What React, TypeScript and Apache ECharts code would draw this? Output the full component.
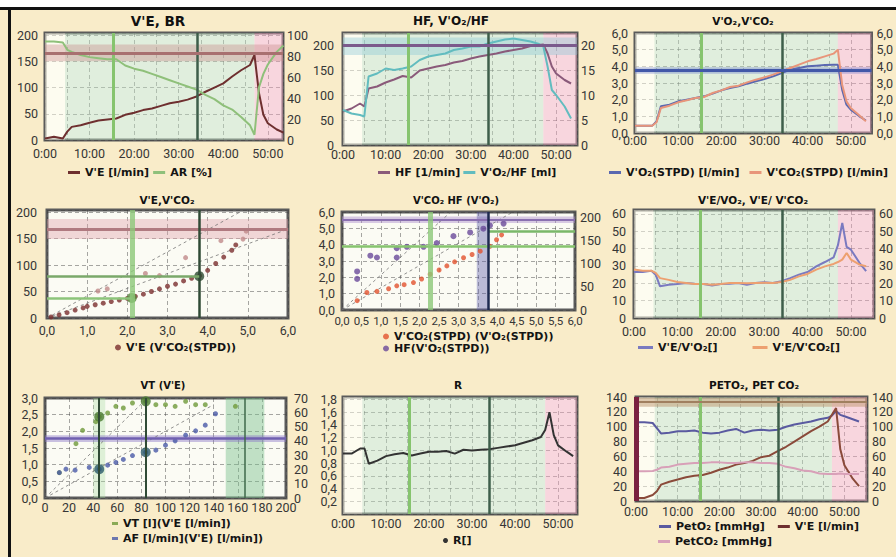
import React, { useEffect, useRef } from 'react';
import * as echarts from 'echarts';

// ---------- data ----------
// time axis in minutes (shared by time panels)
const T = [0, 2, 4, 5, 6, 8, 10, 12, 14, 16, 18, 20, 22, 24, 26, 28, 30, 32, 34, 36, 38, 40, 42, 44, 46, 47, 48, 49, 50, 52, 53.5];

// panel 1
const VE = [3, 6, 3, 16, 25, 28, 33, 37, 39, 41, 48, 52, 57, 60, 65, 70, 73, 77, 83, 92, 100, 108, 121, 133, 143, 162, 90, 48, 32, 20, 14];
const AR = [94, 94, 93, 86, 84, 81, 79, 78, 77, 77, 71, 68, 66, 63, 60, 57, 54, 51, 48, 43, 39, 33, 29, 22, 14, 5, 50, 63, 72, 84, 90];
// panel 2
const HF = [67, 73, 83, 77, 113, 117, 125, 131, 138, 135, 149, 153, 157, 160, 165, 168, 173, 177, 180, 183, 187, 190, 193, 198, 200, 201, 183, 157, 143, 130, 123];
const VO2_HF = [7, 6.3, 6, 5.7, 13.7, 14.3, 15.3, 15, 15.3, 15.7, 17, 17.7, 18, 18.3, 19, 19.3, 19.7, 19.7, 20.3, 20.7, 21.1, 21.3, 21, 20.7, 20.2, 19.7, 15.7, 11, 10, 7.7, 5.3];
// panel 3
const VO2 = [0.44, 0.44, 0.44, 0.7, 1.6, 1.7, 1.9, 2.0, 2.1, 2.2, 2.36, 2.56, 2.7, 2.8, 2.96, 3.1, 3.24, 3.4, 3.6, 3.8, 3.9, 4.0, 4.04, 4.08, 4.1, 4.1, 2.6, 1.7, 1.4, 1.0, 0.75];
const VCO2 = [0.44, 0.44, 0.44, 0.64, 1.5, 1.64, 1.84, 1.96, 2.1, 2.16, 2.4, 2.56, 2.76, 2.84, 3.04, 3.2, 3.34, 3.5, 3.7, 3.9, 4.1, 4.3, 4.44, 4.6, 4.76, 5.0, 2.9, 1.9, 1.5, 1.05, 0.7];
// panel 6
const EQO2 = [26.5, 26.5, 27.3, 25, 18.3, 19.2, 19.6, 20.2, 19.8, 19.6, 18.8, 19.6, 19.8, 20.2, 19.2, 20.2, 20.6, 20.2, 21.2, 23, 25, 26.5, 29.8, 32.3, 35, 42, 54.8, 41, 39.4, 31.7, 27];
const EQCO2 = [28, 27.3, 27.3, 26, 23, 22, 20.8, 20.2, 19.6, 19.6, 19.2, 19.6, 20.2, 20.2, 20, 20.2, 20.4, 20.2, 20.8, 22, 24, 25.4, 27.9, 29.8, 31.2, 32.3, 33.7, 37.5, 33.7, 30.8, 29.8];
// panel 8
const RQ = [0.95, 0.95, 1.03, 1.03, 0.79, 0.84, 0.91, 0.94, 0.96, 0.92, 0.95, 0.98, 0.98, 0.99, 0.95, 1.01, 1.0, 1.01, 1.02, 1.04, 1.06, 1.08, 1.12, 1.16, 1.21, 1.32, 1.6, 1.24, 1.08, 0.98, 0.91];
// panel 9
const PETO2 = [106, 106, 105, 98, 91, 92, 94, 94, 95, 92, 91, 92, 95, 97, 92, 95, 96, 95, 96, 100, 103, 105, 107, 110, 112, 115, 121, 116, 114, 110, 107];
const PETCO2 = [40, 40, 40.5, 42, 45, 46, 49, 50, 51, 51, 52, 52, 51, 51, 52, 52, 51, 51, 50, 46, 44, 41, 40, 37, 36.5, 36.5, 36.5, 37, 36.5, 36.5, 36.5];
const VE9 = [4, 4, 8, 13, 22, 26, 29, 32, 34, 35, 38, 42, 45, 49, 51, 54, 59, 61, 67, 73, 80, 87, 94, 100, 107, 116, 125, 70, 48, 30, 20];

// thresholds / phases (minutes)
const AT_TIME = 15.3;
const RCP_TIME = 34.1;
const WARMUP_END = 4.5;
const EXERCISE_END = 47;

// panel 4 scatter: V'E vs V'CO2
const P4_VCO2 = [0.1, 0.3, 0.5, 0.7, 0.9, 1.0, 1.2, 1.4, 1.6, 1.8, 2.0, 2.2, 2.4, 2.6, 2.8, 3.0, 3.2, 3.4, 3.6, 3.8, 4.0, 4.2, 4.4, 4.6, 4.7];
const P4_VE = [2, 6, 10, 15, 19, 22, 25, 28, 31, 34, 37, 41, 45, 50, 55, 60, 64, 70, 75, 80, 90, 103, 115, 128, 138];
const P4_VCO2_B = [1.27, 1.5, 2.45, 2.8, 3.45, 4.33, 4.88, 4.96];
const P4_VE_B = [51, 55, 84, 80, 114, 146, 149, 164];
const P4_THR_VCO2 = [2.11, 3.79];
const P4_THR_VE = [38, 79];
const P4_REF_A = [[0, 0], [4.8, 200]];
const P4_REF_B = [[0, 0], [6, 168]];

// panel 5 scatter
const P5_VO2_A = [0.39, 0.64, 0.9, 1.2, 1.41, 1.6, 1.84, 2.05, 2.27, 2.5, 2.7, 2.9, 3.13, 3.35, 3.56, 3.81, 3.98, 4.11];
const P5_VCO2 = [0.57, 1.07, 1.14, 1.3, 1.48, 1.55, 1.68, 1.9, 2.19, 2.45, 2.7, 2.95, 3.2, 3.4, 3.6, 3.9, 4.3, 4.6];
const P5_VO2_B = [0.39, 0.39, 0.73, 0.9, 1.41, 1.41, 1.67, 2.1, 2.44, 2.87, 3.3, 3.64, 3.81, 4.16];
const P5_HF = [67, 83, 117, 113, 133, 113, 136, 136, 144, 159, 167, 175, 182, 186];
const P5_AT_VO2 = 2.27;
const P5_RCP_VO2 = 3.77;
const P5_REF_A = [[0, 0], [2.8, 6]];
const P5_REF_B = [[0, 0], [4.4, 6]];

// panel 7 scatter
const P7_VE_A = [11.9, 25.7, 31.2, 42.2, 45, 52, 58.8, 65, 72.6, 83.6, 92, 100, 108, 116.7, 125, 133, 158];
const P7_VT = [0.76, 1.63, 2.03, 2.29, 2.44, 2.55, 2.75, 2.7, 2.85, 2.9, 2.8, 2.8, 2.75, 2.9, 2.8, 2.8, 2.75];
const P7_VE_B = [11.9, 17.4, 25, 36.7, 45, 52, 58.8, 65, 72.6, 83.6, 92, 100, 108, 116.7, 125, 133, 141.5];
const P7_AF = [17.8, 20.2, 19.5, 21.4, 20.2, 23, 24.9, 27, 29.7, 32, 33.5, 37, 40, 44, 47, 51, 59];
const P7_THR_VE = [45, 83.6];
const P7_THR_VT = [2.44, 2.9];
const P7_THR_AF = [20.2, 32];
const P7_REF_A = [[0, 0], [140, 2.8]];
const P7_REF_B = [[0, 0], [85, 3.0]];

const TITLES = ["V'E, BR", "HF, V'O₂/HF", "V'O₂,V'CO₂", "V'E,V'CO₂", "V'CO₂ HF (V'O₂)", "V'E/VO₂, V'E/ V'CO₂", "VT (V'E)", "R", "PETO₂, PET CO₂"];

// ---------- helpers ----------
const pairs = (xs: number[], ys: number[]) => xs.map((x, i) => [x, ys[i]]);
const isMult = (v: number, s: number) => { const r = v / s; return Math.abs(r - Math.round(r)) < 1e-6; };
const comma = (v: number) => v.toFixed(1).replace('.', ',');
const intf = (v: number) => String(Math.round(v));

const AXIS_FONT = { color: '#363636', fontFamily: 'Roboto, sans-serif', fontSize: 12.5, lineHeight: 11 };
const SPLIT = { show: true, lineStyle: { color: 'rgba(60,60,60,0.45)', type: [4, 3], width: 1 } };
const LEGEND_TEXT = { fontFamily: '"DejaVu Sans", sans-serif', fontWeight: 'bold', fontSize: 11, color: '#141414' };

const GRIDS = [
  { left: 45, top: 33, width: 238, height: 107 },
  { left: 343, top: 33, width: 234, height: 112 },
  { left: 635, top: 33, width: 238, height: 100 },
  { left: 47, top: 210, width: 241, height: 108 },
  { left: 342, top: 212, width: 233, height: 98 },
  { left: 634, top: 210, width: 240, height: 108 },
  { left: 45, top: 398, width: 241, height: 100 },
  { left: 343, top: 397, width: 234, height: 117 },
  { left: 636, top: 397, width: 237, height: 104 },
];
const TITLE_POS = [[158, 21, 13.5], [451, 21, 12], [743, 21, 10.5], [167, 200, 10.5], [456, 200, 10], [753, 200, 10.5], [163, 385, 10], [458, 385, 10.5], [754, 385, 10.5]];

function xTime(gi: number, max: number, margin: number) {
  return {
    type: 'value', gridIndex: gi, min: 0, max, interval: 5,
    axisLine: { show: false }, axisTick: { show: false }, splitLine: SPLIT,
    axisLabel: { ...AXIS_FONT, margin, formatter: (v: number) => (isMult(v, 10) ? `${Math.round(v)}:00` : '') },
  };
}
function xVal(gi: number, max: number, interval: number, fmt: (v: number) => string, margin: number, fontSize = 12.5) {
  return {
    type: 'value', gridIndex: gi, min: 0, max, interval,
    axisLine: { show: false }, axisTick: { show: false }, splitLine: SPLIT,
    axisLabel: { ...AXIS_FONT, fontSize, margin, formatter: (v: number) => (isMult(v, interval) ? fmt(v) : '') },
  };
}
function yVal(gi: number, max: number, interval: number, fmt: (v: number) => string, pos: string, margin: number, split: boolean, hideZero = false) {
  return {
    type: 'value', gridIndex: gi, min: 0, max, interval, position: pos,
    axisLine: { show: false }, axisTick: { show: false }, splitLine: split ? SPLIT : { show: false },
    axisLabel: { ...AXIS_FONT, margin, formatter: (v: number) => (isMult(v, interval) && !(hideZero && v === 0) ? fmt(v) : '') },
  };
}

const ZONE_WARM = 'rgba(255,253,236,0.5)';
const ZONE_EX = 'rgba(190,222,192,0.45)';
const ZONE_REC = 'rgba(244,168,195,0.45)';
function zones(max: number): any[] {
  return [
    [{ xAxis: 0, itemStyle: { color: ZONE_WARM } }, { xAxis: WARMUP_END }],
    [{ xAxis: WARMUP_END, itemStyle: { color: ZONE_EX } }, { xAxis: EXERCISE_END }],
    [{ xAxis: EXERCISE_END, itemStyle: { color: ZONE_REC } }, { xAxis: max }],
  ];
}
function timeLines(): any[] {
  return [
    { xAxis: AT_TIME, lineStyle: { color: '#86c46e', width: 3, type: 'solid' } },
    { xAxis: RCP_TIME, lineStyle: { color: '#3e5e4a', width: 2.5, type: 'solid' } },
  ];
}
function mArea(data: any[]) { return { silent: true, label: { show: false }, data }; }
function mLine(data: any[]) { return { silent: true, symbol: ['none', 'none'], label: { show: false }, data }; }
function seg(x1: number, y1: number, x2: number, y2: number, color: string, width: number) {
  const ls = { color, width, type: 'solid' };
  return [{ coord: [x1, y1], lineStyle: ls }, { coord: [x2, y2], lineStyle: ls }];
}
function line(name: string, xi: number, yi: number, data: any[], color: string, extra: any = {}) {
  return { name, type: 'line', xAxisIndex: xi, yAxisIndex: yi, data, showSymbol: false, z: 3,
    lineStyle: { width: 2, color }, itemStyle: { color }, ...extra };
}
function scatter(name: string, xi: number, yi: number, data: any[], color: string, size: number, extra: any = {}) {
  return { name, type: 'scatter', xAxisIndex: xi, yAxisIndex: yi, data, symbolSize: size, z: 4, itemStyle: { color }, ...extra };
}
function refLine(xi: number, yi: number, data: any[]) {
  return { type: 'line', xAxisIndex: xi, yAxisIndex: yi, data, showSymbol: false, z: 2, silent: true,
    lineStyle: { width: 1, color: 'rgba(110,110,110,0.75)', type: [3, 3] } };
}

function buildOption() {
  const xAxis: any[] = [
    xTime(0, 53.4, 8),
    xTime(1, 54.9, 4),
    xTime(2, 54.8, 2),
    xVal(3, 6, 1, comma, 7),
    xVal(4, 6, 0.5, comma, 5, 11.5),
    xTime(5, 55.3, 8),
    xVal(6, 200, 20, intf, 4),
    xTime(7, 54.4, 4),
    xTime(8, 55.4, 5),
  ];
  const yAxis: any[] = [];
  const y = (cfg: any) => { yAxis.push(cfg); return yAxis.length - 1; };
  const y1L = y(yVal(0, 204, 50, intf, 'left', 7, true));
  const y1R = y(yVal(0, 102, 20, intf, 'right', 4, false));
  const y2L = y(yVal(1, 224, 50, intf, 'left', 9, true));
  const y2R = y(yVal(1, 22.4, 5, intf, 'right', 4, false));
  const y3L = y(yVal(2, 6, 1, comma, 'left', 7, true));
  const y3R = y(yVal(2, 6, 1, comma, 'right', 5, false));
  const y4L = y(yVal(3, 204, 50, intf, 'left', 10, true));
  const y5L = y(yVal(4, 6, 1, comma, 'left', 7, true));
  const y5R = y(yVal(4, 211, 50, intf, 'right', 5, false));
  const y6L = y(yVal(5, 62.3, 10, intf, 'left', 8, true));
  const y6R = y(yVal(5, 62.3, 10, intf, 'right', 5, false));
  const y7L = y(yVal(6, 3, 0.5, comma, 'left', 7, true));
  const y7R = y(yVal(6, 70, 10, intf, 'right', 8, false));
  const y8L = y(yVal(7, 1.84, 0.2, comma, 'left', 6, true, true));
  const y9L = y(yVal(8, 140, 20, intf, 'left', 9, true));
  const y9R = y(yVal(8, 140, 20, intf, 'right', 5, false));

  const series: any[] = [
    // ---- panel 1
    line("V'E [l/min]", 0, y1L, pairs(T, VE), '#6e2f2f', {
      markArea: mArea([...zones(53.4), [{ yAxis: 150, itemStyle: { color: 'rgba(200,140,140,0.4)' } }, { yAxis: 182 }]]),
      markLine: mLine([...timeLines(), { yAxis: 165, lineStyle: { color: '#a87070', width: 3, type: 'solid' } }]),
    }),
    line('AR [%]', 0, y1R, pairs(T, AR), '#8fc07a'),
    // ---- panel 2
    line('HF [1/min]', 1, y2L, pairs(T, HF), '#8a5a7a', {
      markArea: mArea([...zones(54.9), [{ yAxis: 180, itemStyle: { color: 'rgba(140,200,215,0.4)' } }, { yAxis: 215 }]]),
      markLine: mLine([...timeLines(), { yAxis: 200, lineStyle: { color: '#7b5a8c', width: 3, type: 'solid' } }]),
    }),
    line("V'O₂/HF [ml]", 1, y2R, pairs(T, VO2_HF), '#62bcbf'),
    // ---- panel 3
    line("V'O₂(STPD) [l/min]", 2, y3L, pairs(T, VO2), '#5a68b0', {
      markArea: mArea([...zones(54.8), [{ yAxis: 3.55, itemStyle: { color: 'rgba(90,110,200,0.35)' } }, { yAxis: 3.95 }]]),
      markLine: mLine([...timeLines(), { yAxis: 3.75, lineStyle: { color: '#4258a8', width: 3, type: 'solid' } }]),
    }),
    line("V'CO₂(STPD) [l/min]", 2, y3R, pairs(T, VCO2), '#e8957a'),
    // ---- panel 4
    refLine(3, y4L, P4_REF_A),
    refLine(3, y4L, P4_REF_B),
    scatter("V'E (V'CO₂(STPD))", 3, y4L, pairs(P4_VCO2, P4_VE), '#7a2e2e', 5, {
      markArea: mArea([[{ yAxis: 149, itemStyle: { color: 'rgba(225,160,170,0.4)' } }, { yAxis: 187 }]]),
      markLine: mLine([
        { yAxis: 168, lineStyle: { color: '#b07a80', width: 3, type: 'solid' } },
        { xAxis: P4_THR_VCO2[0], lineStyle: { color: 'rgba(140,200,120,0.8)', width: 5, type: 'solid' } },
        { xAxis: P4_THR_VCO2[1], lineStyle: { color: '#2f4a35', width: 2.5, type: 'solid' } },
        seg(0, P4_THR_VE[0], P4_THR_VCO2[0], P4_THR_VE[0], '#8cc47a', 2.5),
        seg(0, P4_THR_VE[1], P4_THR_VCO2[1], P4_THR_VE[1], '#7aa86a', 2.5),
      ]),
    }),
    scatter('', 3, y4L, pairs(P4_VCO2_B, P4_VE_B), '#c08a8a', 5),
    scatter('', 3, y4L, [
      { value: [P4_THR_VCO2[0], P4_THR_VE[0]], itemStyle: { color: '#5a8a40' } },
      { value: [P4_THR_VCO2[1], P4_THR_VE[1]], itemStyle: { color: '#2d4a30' } },
    ], '#2d4a30', 10),
    // ---- panel 5
    refLine(4, y5L, P5_REF_A),
    refLine(4, y5L, P5_REF_B),
    scatter("V'CO₂(STPD) (V'O₂(STPD))", 4, y5L, pairs(P5_VO2_A, P5_VCO2), '#e2522e', 5, {
      markArea: mArea([
        [{ yAxis: 5.33, itemStyle: { color: 'rgba(170,140,205,0.45)' } }, { yAxis: 5.73 }],
        [{ xAxis: 3.47, itemStyle: { color: 'rgba(90,90,170,0.4)' } }, { xAxis: P5_RCP_VO2 }],
      ]),
      markLine: mLine([
        { yAxis: 5.5, lineStyle: { color: '#8a70b0', width: 2, type: 'solid' } },
        { yAxis: 3.9, lineStyle: { color: '#86c46e', width: 2.5, type: 'solid' } },
        seg(P5_RCP_VO2, 4.85, 6, 4.85, '#7ab86a', 2.5),
        { xAxis: P5_AT_VO2, lineStyle: { color: 'rgba(140,200,120,0.8)', width: 5, type: 'solid' } },
        { xAxis: P5_RCP_VO2, lineStyle: { color: '#1e2a50', width: 2.5, type: 'solid' } },
      ]),
    }),
    scatter("HF(V'O₂(STPD))", 4, y5R, pairs(P5_VO2_B, P5_HF), '#6a4a9a', 6),
    // ---- panel 6
    line("V'E/V'O₂[]", 5, y6L, pairs(T, EQO2), '#7a7ac0', {
      markArea: mArea(zones(55.3)),
      markLine: mLine(timeLines()),
    }),
    line("V'E/V'CO₂[]", 5, y6R, pairs(T, EQCO2), '#eda070'),
    // ---- panel 7
    refLine(6, y7L, P7_REF_A),
    refLine(6, y7L, P7_REF_B),
    scatter("VT [l](V'E [l/min])", 6, y7L, pairs(P7_VE_A, P7_VT), '#6f9a3a', 5, {
      markArea: mArea([
        [{ xAxis: 40, itemStyle: { color: 'rgba(170,220,160,0.35)' } }, { xAxis: 50 }],
        [{ xAxis: 150, itemStyle: { color: 'rgba(120,190,140,0.45)' } }, { xAxis: 182 }],
        [{ yAxis: 1.68, itemStyle: { color: 'rgba(140,120,200,0.45)' } }, { yAxis: 1.88 }],
      ]),
      markLine: mLine([
        { yAxis: 1.78, lineStyle: { color: '#7060b0', width: 2.5, type: 'solid' } },
        { xAxis: P7_THR_VE[0], lineStyle: { color: '#2f4a35', width: 2, type: 'solid' } },
        { xAxis: P7_THR_VE[1], lineStyle: { color: '#2f4a35', width: 2, type: 'solid' } },
        { xAxis: 166, lineStyle: { color: '#3f6a4a', width: 1.5, type: 'solid' } },
      ]),
    }),
    scatter("AF [l/min](V'E) [l/min])", 6, y7R, pairs(P7_VE_B, P7_AF), '#4a5aa8', 5),
    scatter('', 6, y7L, pairs(P7_THR_VE, P7_THR_VT), '#4a7a30', 10),
    scatter('', 6, y7R, pairs(P7_THR_VE, P7_THR_AF), '#2a5a6a', 10),
    // ---- panel 8
    line('R[]', 7, y8L, pairs(T, RQ), '#333333', {
      markArea: mArea(zones(54.4)),
      markLine: mLine(timeLines()),
    }),
    // ---- panel 9
    line('PetO₂ [mmHg]', 8, y9L, pairs(T, PETO2), '#5a5aa0', {
      markArea: mArea([...zones(55.4), [{ yAxis: 127, itemStyle: { color: 'rgba(190,150,110,0.5)' } }, { yAxis: 139 }]]),
      markLine: mLine([
        ...timeLines(),
        { yAxis: 133, lineStyle: { color: '#a08060', width: 2, type: 'solid' } },
        { xAxis: 0, lineStyle: { color: '#7a2040', width: 5, type: 'solid' } },
      ]),
    }),
    line("V'E [l/min]", 8, y9R, pairs(T, VE9), '#8a4a3a'),
    line('PetCO₂ [mmHg]', 8, y9L, pairs(T, PETCO2), '#d8a0b8'),
  ];

  const lg = (left: number, top: number, data: any[], extra: any = {}) => ({
    left, top, data, selectedMode: false, padding: 0, icon: 'rect', itemWidth: 12, itemHeight: 3,
    itemGap: 6, textStyle: LEGEND_TEXT, ...extra,
  });
  const legend = [
    lg(68, 167, ["V'E [l/min]", 'AR [%]'], { itemGap: 4 }),
    lg(378, 167, ['HF [1/min]', "V'O₂/HF [ml]"], { itemGap: 3 }),
    lg(609, 167, ["V'O₂(STPD) [l/min]", "V'CO₂(STPD) [l/min]"], { itemGap: 10 }),
    lg(115, 342, ["V'E (V'CO₂(STPD))"], { icon: 'circle', itemWidth: 6, itemHeight: 6 }),
    lg(383, 331, ["V'CO₂(STPD) (V'O₂(STPD))", "HF(V'O₂(STPD))"], { icon: 'circle', itemWidth: 6, itemHeight: 6, orient: 'vertical', itemGap: 1 }),
    lg(638, 342, ["V'E/V'O₂[]", "V'E/V'CO₂[]"], { itemWidth: 15, itemGap: 35 }),
    lg(112, 518, ["VT [l](V'E [l/min])", "AF [l/min](V'E) [l/min])"], { itemWidth: 6, orient: 'vertical', itemGap: 4 }),
    lg(443, 535, ['R[]'], { icon: 'circle', itemWidth: 5, itemHeight: 5 }),
    lg(659, 521, ['PetO₂ [mmHg]', "V'E [l/min]"], { itemGap: 13 }),
    lg(658, 536, ['PetCO₂ [mmHg]']),
  ];

  const graphic: any[] = [
    { type: 'rect', silent: true, shape: { x: 0, y: 0, width: 896, height: 7 }, style: { fill: '#ffffff' } },
    { type: 'rect', silent: true, shape: { x: 0, y: 7, width: 896, height: 3 }, style: { fill: '#111111' } },
    { type: 'rect', silent: true, shape: { x: 8, y: 7, width: 3, height: 550 }, style: { fill: '#111111' } },
    ...TITLES.map((t, i) => ({
      type: 'text', silent: true, x: TITLE_POS[i][0], y: TITLE_POS[i][1],
      style: { text: t, fill: '#111', font: `bold ${TITLE_POS[i][2]}px "DejaVu Sans", sans-serif`, textAlign: 'center', textVerticalAlign: 'middle' },
    })),
  ];

  return {
    animation: false,
    backgroundColor: '#f9ecc9',
    grid: GRIDS.map((g) => ({ ...g, show: true, backgroundColor: '#fbfbf4', borderColor: '#5b5b5b', borderWidth: 3 })),
    xAxis,
    yAxis,
    series,
    legend,
    graphic,
  };
}

export default function App() {
  const ref = useRef<HTMLDivElement>(null);
  useEffect(() => {
    const chart = echarts.init(ref.current!, null, { renderer: 'svg' });
    chart.setOption(buildOption() as any);
    return () => chart.dispose();
  }, []);
  return <div ref={ref} style={{ position: 'fixed', left: 0, top: 0, width: 896, height: 557 }} />;
}
